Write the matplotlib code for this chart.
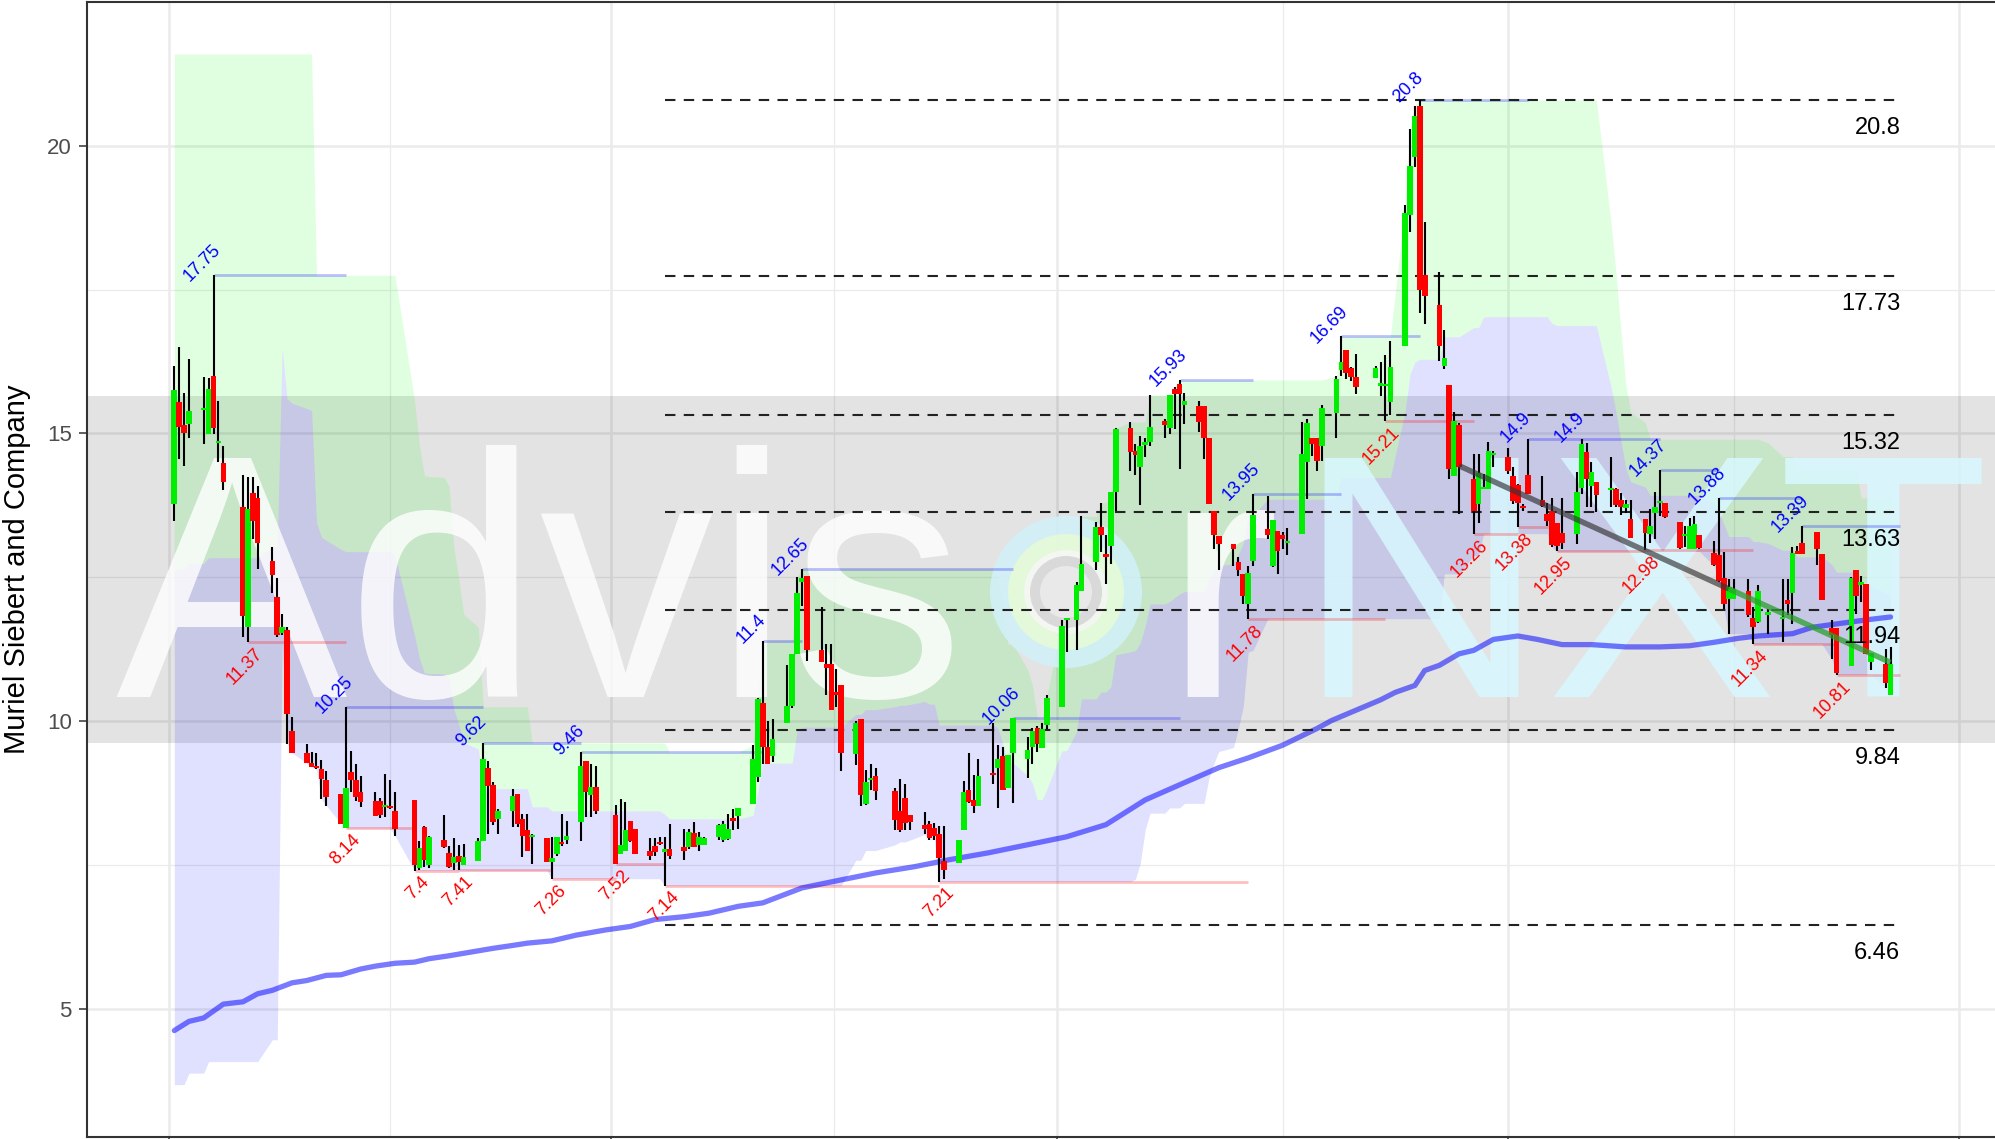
import matplotlib
matplotlib.use("Agg")
import matplotlib.pyplot as plt
import matplotlib.dates as mdates
from matplotlib.patches import Circle
from matplotlib.collections import LineCollection
from matplotlib.transforms import IdentityTransform
import numpy as np
import pandas as pd

plt.rcParams['font.family'] = ['Liberation Sans', 'DejaVu Sans']

W, H = 1995, 1139

# trading calendar 2018 (NYSE holidays removed)
holidays = ['2018-01-15', '2018-02-19', '2018-03-30', '2018-05-28',
            '2018-07-04', '2018-09-03', '2018-11-22', '2018-12-05']
dates = pd.bdate_range('2018-01-02', '2018-12-18')
dates = dates[~dates.isin(pd.to_datetime(holidays))]

opens = [13.77,15.55,15.14,15.17,15.40,14.99,16.00,14.83,14.49,13.73,
         11.64,13.97,13.88,12.78,12.16,11.54,11.59,9.82,9.45,9.27,
         9.22,9.16,8.98,8.74,8.14,9.11,8.98,8.77,8.61,8.61,
         8.50,8.52,8.43,8.62,7.45,8.16,7.49,7.94,7.70,7.53,
         7.65,7.49,7.56,7.92,9.18,8.89,8.30,8.43,8.73,8.29,
         8.10,7.98,7.97,7.55,7.69,7.87,7.93,8.25,9.30,8.72,
         8.85,8.37,7.69,7.75,8.27,8.12,7.74,7.83,7.88,7.72,
         7.78,7.81,7.81,8.06,7.85,7.85,7.98,7.93,7.95,8.28,
         8.35,8.56,9.02,10.32,9.55,9.39,9.96,10.26,11.17,12.41,
         12.53,11.23,10.99,10.99,10.50,10.63,9.42,10.04,8.56,8.97,
         9.05,8.79,8.43,8.67,8.36,8.19,8.21,8.15,8.04,7.56,
         7.53,8.11,8.80,8.63,8.53,9.07,9.19,9.40,8.84,9.45,
         9.35,9.55,9.88,9.54,9.94,10.25,11.75,11.75,12.27,12.76,
         13.37,12.88,13.05,13.98,15.09,14.70,14.41,14.80,14.86,15.22,
         15.09,15.78,15.86,15.49,15.48,15.48,14.93,13.66,13.21,13.08,
         12.76,12.56,12.04,12.79,13.34,12.69,13.31,13.24,13.09,13.25,
         14.50,14.93,14.93,14.79,15.36,16.11,16.46,16.13,15.98,15.97,
         15.83,15.82,15.54,16.52,18.80,19.81,20.70,17.75,17.24,16.18,
         15.85,14.26,15.14,14.21,13.77,14.03,14.03,14.62,14.60,14.26,
         14.10,13.74,14.28,13.85,13.60,13.66,13.45,13.27,13.25,14.06,
         14.68,14.09,14.15,14.02,14.03,13.84,13.71,13.52,13.52,13.25,
         13.62,13.79,13.79,13.47,13.21,13.00,13.00,13.24,12.93,12.88,
         12.48,12.12,12.12,12.27,11.79,11.72,11.85,11.77,12.10,12.23,
         12.96,13.09,13.29,12.90,11.62,11.62,10.95,12.63,12.37,12.38,
         11.02,11.00,10.46]
highs = [16.18,16.50,15.70,16.29,15.98,15.96,17.75,15.57,14.78,14.27,
         14.25,14.24,14.09,13.03,12.49,11.86,11.63,10.08,9.61,9.47,
         9.45,9.33,9.13,8.74,10.25,9.48,9.25,9.05,8.77,8.66,
         9.08,8.98,8.77,8.62,7.92,8.17,8.00,8.37,7.83,7.97,
         7.84,7.87,7.97,9.62,9.31,8.94,8.47,8.82,8.73,8.39,
         8.39,8.04,7.97,7.98,7.98,8.39,8.27,9.46,9.30,9.26,
         9.22,8.54,8.64,8.60,8.27,8.12,7.97,7.97,7.98,7.98,
         8.21,8.13,8.12,8.24,8.07,7.99,8.22,8.27,8.39,8.47,
         8.49,9.58,10.40,11.40,10.01,10.04,10.98,11.17,12.51,12.65,
         12.53,11.98,11.34,11.34,10.90,10.63,10.01,10.04,9.15,9.26,
         9.19,8.83,8.99,8.90,8.36,8.42,8.27,8.23,8.17,8.17,
         7.94,8.96,9.44,9.07,9.35,9.97,9.58,9.55,9.41,10.06,
         9.73,9.88,9.92,9.96,10.45,11.75,11.77,12.42,13.56,13.46,
         13.80,13.23,13.98,15.09,15.20,14.82,14.95,14.93,15.67,15.26,
         15.67,15.80,15.93,15.71,15.57,15.48,14.93,13.66,13.21,13.08,
         12.85,12.56,12.69,13.95,13.92,13.49,13.31,13.28,13.35,15.20,
         15.26,14.93,14.93,15.49,16.00,16.69,16.46,16.15,16.39,16.18,
         16.24,16.36,16.61,18.98,20.29,20.70,20.80,18.67,17.80,16.80,
         15.85,15.37,15.19,14.64,14.64,14.29,14.85,14.70,14.74,14.41,
         14.12,13.78,14.90,14.26,13.80,13.87,13.45,13.87,14.33,14.90,
         14.84,14.51,14.15,14.60,14.05,13.96,13.84,13.85,13.52,13.68,
         13.99,14.37,13.79,13.47,13.39,13.53,13.56,13.24,13.13,13.88,
         12.94,12.47,12.47,12.47,11.98,12.37,11.95,12.47,12.47,13.03,
         13.04,13.39,13.29,12.90,11.75,11.62,12.50,12.63,12.53,12.38,
         11.18,11.26,11.29]
lows = [13.48,14.56,14.44,14.93,14.81,14.99,14.99,14.51,14.02,11.47,
        11.37,13.16,12.65,12.22,11.46,11.50,9.61,9.45,9.27,9.20,
        9.16,8.64,8.53,8.22,8.14,8.77,8.61,8.51,8.35,8.32,
        8.33,8.47,8.01,7.40,7.42,7.47,7.45,7.80,7.45,7.42,
        7.41,7.49,7.56,7.92,8.04,8.20,8.04,8.16,8.16,7.64,
        7.75,7.52,7.55,7.26,7.66,7.83,7.86,7.91,8.33,8.33,
        8.39,7.52,7.69,7.75,7.90,7.69,7.58,7.66,7.84,7.14,
        7.61,7.58,7.78,7.81,7.75,7.85,7.93,7.90,7.93,8.10,
        8.12,8.56,8.95,9.26,9.26,9.29,9.96,10.22,11.17,12.00,
        11.05,11.02,10.45,10.19,10.25,9.13,9.24,8.52,8.55,8.80,
        8.63,8.11,8.08,8.11,8.11,8.03,7.94,7.94,7.21,7.25,
        7.53,8.11,8.57,8.40,8.53,8.90,8.49,8.80,8.83,8.57,
        9.01,9.26,9.47,9.54,9.87,10.25,11.20,11.23,12.27,12.62,
        12.94,12.39,12.73,13.66,14.34,14.28,13.76,14.59,14.79,14.93,
        14.99,15.08,14.39,15.16,15.02,14.56,13.77,13.00,12.62,12.70,
        12.53,12.04,11.78,12.70,13.17,12.68,12.56,12.99,12.88,13.25,
        13.86,14.61,14.35,14.53,14.93,16.00,15.94,15.91,15.68,15.97,
        15.65,15.21,15.33,16.52,18.51,19.63,17.10,16.90,16.26,16.12,
        14.21,14.26,13.60,13.26,13.45,14.03,14.03,14.41,14.29,13.77,
        13.38,13.66,13.95,13.72,13.40,13.02,12.95,13.00,13.08,13.95,
        13.72,13.72,13.63,13.73,13.73,13.59,13.62,13.19,12.98,13.10,
        13.16,13.56,13.53,13.00,13.02,13.00,13.00,13.00,12.70,12.42,
        11.95,11.52,12.12,11.81,11.34,11.71,11.52,11.37,11.84,11.69,
        12.90,12.90,12.71,12.11,11.08,10.81,10.95,11.87,12.07,11.16,
        10.89,10.58,10.46]
closes = [15.75,15.11,15.01,15.39,15.45,15.78,15.10,14.85,14.16,11.83,
          13.68,13.48,13.10,12.54,11.50,11.64,10.12,9.45,9.27,9.20,
          9.18,8.99,8.68,8.22,8.84,8.98,8.68,8.59,8.35,8.37,
          8.55,8.49,8.12,7.49,7.79,7.58,7.99,7.81,7.47,7.64,
          7.55,7.64,7.92,9.34,8.87,8.24,8.43,8.69,8.21,8.01,
          7.75,8.01,7.55,7.62,7.98,7.86,8.01,9.22,8.76,8.85,
          8.43,7.52,7.85,8.10,7.92,7.69,7.66,7.72,7.86,7.78,
          7.66,7.75,8.08,7.81,7.98,7.97,8.19,8.22,8.13,8.27,
          8.49,9.35,10.39,9.55,9.26,9.69,10.27,11.17,12.22,12.49,
          11.23,11.02,10.93,10.19,10.45,9.44,9.97,8.71,8.94,9.00,
          8.79,8.28,8.11,8.23,8.24,8.13,7.96,8.00,7.62,7.42,
          7.94,8.77,8.59,8.53,9.05,9.06,9.35,8.80,9.41,10.05,
          9.50,9.83,9.61,9.87,10.40,11.66,11.77,12.36,12.73,13.37,
          13.23,12.86,13.98,15.08,14.68,14.63,14.79,14.86,15.11,15.15,
          15.67,15.68,15.68,15.57,15.20,14.92,13.77,13.23,13.08,12.99,
          12.63,12.18,12.58,13.58,13.23,13.49,12.95,13.16,13.13,14.64,
          15.18,14.82,14.53,15.44,15.94,16.24,16.06,15.98,15.81,16.13,
          15.84,15.83,16.16,18.83,19.65,20.52,17.50,17.39,16.52,16.32,
          14.39,15.22,14.41,13.66,14.32,14.06,14.70,14.64,14.35,13.83,
          13.80,13.70,13.95,13.74,13.48,13.06,13.05,13.10,13.99,14.81,
          14.21,14.33,13.93,14.04,13.76,13.73,13.78,13.19,13.27,13.40,
          13.73,13.81,13.55,13.01,13.25,13.39,13.42,13.01,12.71,12.44,
          12.04,12.33,12.30,11.85,11.64,12.27,11.87,11.79,12.04,12.93,
          12.90,12.91,13.00,12.11,11.49,10.83,12.48,12.18,12.40,11.16,
          11.18,10.66,11.00]

# channel values carried over from before the first bar
early_upper = 21.6
early_upper_until = '2018-01-30'
early_lower = [3.68, 3.88, 4.08, 4.46]
early_lower_until = ['2018-01-04', '2018-01-08', '2018-01-19', '2018-01-23']
channel_len = 27

# long moving average
ma_dates = ['2018-01-02','2018-01-05','2018-01-08','2018-01-12','2018-01-16','2018-01-19',
            '2018-01-22','2018-01-26','2018-01-29','2018-02-02','2018-02-05','2018-02-09',
            '2018-02-12','2018-02-16','2018-02-20','2018-02-23','2018-02-27','2018-03-08',
            '2018-03-12','2018-03-15','2018-03-20','2018-03-25','2018-03-31','2018-04-05',
            '2018-04-10','2018-04-16','2018-04-21','2018-04-27','2018-05-02','2018-05-10',
            '2018-05-18','2018-05-25','2018-06-02','2018-06-09','2018-06-17','2018-06-25',
            '2018-07-03','2018-07-11','2018-07-19','2018-07-27','2018-08-03','2018-08-09',
            '2018-08-16','2018-08-23','2018-08-26','2018-09-05','2018-09-08','2018-09-12',
            '2018-09-14','2018-09-17','2018-09-21','2018-09-24','2018-09-28','2018-10-03',
            '2018-10-07','2018-10-12','2018-10-18','2018-10-25','2018-11-01','2018-11-07',
            '2018-11-12','2018-11-17','2018-11-21','2018-11-28','2018-12-02','2018-12-07',
            '2018-12-14','2018-12-18']
ma_values = [4.62,4.78,4.84,5.08,5.12,5.26,5.32,5.45,5.49,5.58,5.59,5.69,
             5.74,5.79,5.81,5.87,5.92,6.05,6.10,6.14,6.18,6.28,6.37,6.43,
             6.55,6.60,6.66,6.78,6.84,7.10,7.24,7.36,7.47,7.59,7.71,7.85,
             7.99,8.20,8.63,8.93,9.19,9.36,9.58,9.87,10.01,10.37,10.50,10.62,
             10.88,10.97,11.17,11.23,11.42,11.48,11.42,11.33,11.33,11.29,11.29,11.31,
             11.37,11.44,11.48,11.52,11.63,11.69,11.77,11.81]

pivot_high_dates = ['2018-01-10','2018-02-06','2018-03-06','2018-03-26','2018-05-02','2018-05-10',
                    '2018-06-22','2018-07-26','2018-08-10','2018-08-28','2018-09-13','2018-10-05',
                    '2018-10-16','2018-11-01','2018-11-13','2018-11-30']
pivot_high_values = [17.75,10.25,9.62,9.46,11.4,12.65,10.06,15.93,13.95,16.69,20.8,14.9,
                     14.9,14.37,13.88,13.39]
pivot_low_dates = ['2018-01-17','2018-02-06','2018-02-20','2018-03-01','2018-03-20','2018-04-02',
                   '2018-04-12','2018-06-07','2018-08-09','2018-09-06','2018-09-24','2018-10-03',
                   '2018-10-11','2018-10-29','2018-11-20','2018-12-07']
pivot_low_values = [11.37,8.14,7.4,7.41,7.26,7.52,7.14,7.21,11.78,15.21,13.26,13.38,
                    12.95,12.98,11.34,10.81]

fib_levels = [20.8, 17.73, 15.32, 13.63, 11.94, 9.84, 6.46]
fib_start = '2018-04-12'
zone_low, zone_high = 9.62, 15.66

trend_dates = ['2018-09-21', '2018-11-15', '2018-12-18']
trend_values = [14.44, 12.30, 11.02]

# ------------------------------------------------------------------
x = mdates.date2num(dates)
o = np.array(opens); h = np.array(highs); l = np.array(lows); c = np.array(closes)
end_x = x[-1] + 2

upper = pd.Series(h).rolling(channel_len, min_periods=1).max().to_numpy()
lower = pd.Series(l).rolling(channel_len, min_periods=1).min().to_numpy()
upper = np.where(dates <= pd.Timestamp(early_upper_until), np.maximum(upper, early_upper), upper)
lim = pd.to_datetime(early_lower_until)
idx = np.searchsorted(lim, dates)
for i in range(len(x)):
    if idx[i] < len(early_lower):
        lower[i] = min(lower[i], early_lower[idx[i]])
mid = (upper + lower) / 2

fig = plt.figure(figsize=(W / 100, H / 100), dpi=100)
ax = fig.add_axes([87 / W, 2 / H, (W - 87) / W, 1135.5 / H])

t0 = mdates.date2num(pd.Timestamp('2018-01-01'))

# grid
xmaj = mdates.date2num(pd.to_datetime(['2018-01-01', '2018-04-01', '2018-07-01',
                                       '2018-10-01', '2019-01-01']))
xmin = (xmaj[:-1] + xmaj[1:]) / 2
ax.set_xticks(xmaj)
ax.set_xticks(xmin, minor=True)
ax.set_yticks([5, 10, 15, 20])
ax.set_yticks([7.5, 12.5, 17.5], minor=True)
ax.set_xticklabels([])
ax.grid(which='major', color='#ebebeb', lw=1.8, zorder=0)
ax.grid(which='minor', color='#ebebeb', lw=0.9, zorder=0)
ax.set_axisbelow(True)
ax.tick_params(which='major', length=6, width=1.1, color='#333333',
               labelsize=16, labelcolor='#4d4d4d', pad=5)
ax.tick_params(which='minor', length=0)
for s in ['left', 'top', 'bottom']:
    ax.spines[s].set_color('#333333')
    ax.spines[s].set_linewidth(1.5)
ax.spines['right'].set_visible(False)

# zone and channel
ax.axhspan(zone_low, zone_high, color='black', alpha=0.11, lw=0, zorder=1)
ax.fill_between(x, mid, upper, color='#00ff00', alpha=0.12, lw=0, zorder=1.2)
ax.fill_between(x, lower, mid, color='#0000ff', alpha=0.12, lw=0, zorder=1.2)

# watermark
wm_y = 1 - 697 / H
ax.text(115 / W, wm_y, 'Advis', transform=fig.transFigure, fontsize=250,
        color='white', alpha=0.8, va='baseline', ha='left', zorder=1.5)
ax.text(1163 / W, wm_y, 'r', transform=fig.transFigure, fontsize=250,
        color='white', alpha=0.8, va='baseline', ha='left', zorder=1.5)
ax.text(1295 / W, wm_y, 'NXT', transform=fig.transFigure, fontsize=250,
        color='#d8f8ff', alpha=0.85, va='baseline', ha='left', zorder=1.5)
for r, col in [(76, '#d2f1fa'), (58, '#e6fbd6'), (42, '#f6f6f6'), (36, '#d4d4d4'), (26, '#ececec')]:
    ax.add_patch(Circle((1066, H - 592), r, transform=IdentityTransform(),
                        facecolor=col, alpha=0.85, lw=0, zorder=1.5))

# pivot lines
phx = mdates.date2num(pd.to_datetime(pivot_high_dates))
plx = mdates.date2num(pd.to_datetime(pivot_low_dates))
ax.hlines(pivot_high_values, phx, np.append(phx[1:], end_x), color='#0000ff',
          alpha=0.25, lw=2, zorder=2)
ax.hlines(pivot_low_values, plx, np.append(plx[1:], end_x), color='#ff0000',
          alpha=0.25, lw=2, zorder=2)

# moving average
ax.plot(mdates.date2num(pd.to_datetime(ma_dates)), ma_values, color='#0000ff',
        alpha=0.52, lw=3.8, zorder=3, solid_capstyle='round')

# fib levels
fx0 = mdates.date2num(pd.Timestamp(fib_start))
for v in fib_levels:
    ax.plot([fx0, end_x], [v, v], ls=(0, (5, 4)), color='#222222', lw=1.5, zorder=3)
    ax.annotate(f'{v:g}', xy=(end_x, v), xytext=(0, -20), textcoords='offset points',
                ha='right', va='center', fontsize=17, color='black', zorder=6)

# candles
segs = [[(xi, lo_), (xi, hi_)] for xi, lo_, hi_ in zip(x, l, h)]
ax.add_collection(LineCollection(segs, colors='black', linewidths=1.5, zorder=4))
up = c >= o
body_bottom = np.minimum(o, c)
body_h = np.maximum(np.abs(c - o), 0.04)
ax.bar(x, body_h, bottom=body_bottom, width=1.15,
       color=np.where(up, '#00ee00', '#ff0000'), lw=0, zorder=4.1)

# trend line
tx = mdates.date2num(pd.to_datetime(trend_dates))
ax.plot(tx[:2], trend_values[:2], color='#333333', alpha=0.65, lw=4, zorder=5,
        solid_capstyle='butt')
ax.plot(tx[1:], trend_values[1:], color='#2ca02c', alpha=0.75, lw=4, zorder=5,
        solid_capstyle='butt')

# pivot labels
for xi, v in zip(phx, pivot_high_values):
    ax.annotate(f'{v:g}', xy=(xi, v), xytext=(-8.3, 8.6), textcoords='offset points',
                rotation=45, rotation_mode='anchor', ha='center', va='center',
                fontsize=13, color='#0000ff', zorder=6)
for xi, v in zip(plx, pivot_low_values):
    ax.annotate(f'{v:g}', xy=(xi, v), xytext=(4.3, -2.2), textcoords='offset points',
                rotation=45, rotation_mode='anchor', ha='right', va='top',
                fontsize=13, color='#ff0000', zorder=6)

ax.set_xlim(t0 - 16.8, t0 + 372.3)
ax.set_ylim(2.77, 22.51)

fig.text(17 / W, 0.5, 'Muriel Siebert and Company', rotation=90,
         va='center', ha='center', fontsize=21, color='black')

fig.savefig('out.png', dpi=100)
